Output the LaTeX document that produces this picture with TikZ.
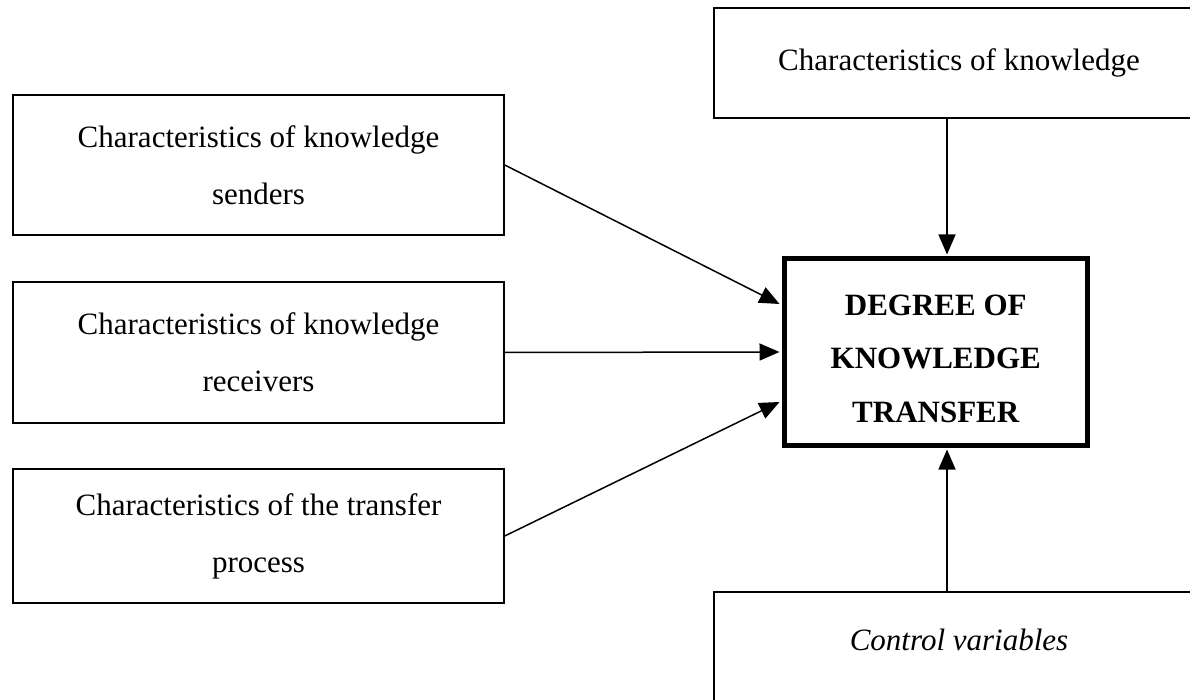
\documentclass[tikz,border=0pt]{standalone}
\usepackage{fontspec}
\setmainfont{Liberation Serif}
\usetikzlibrary{arrows.meta,calc}
\begin{document}
\begin{tikzpicture}[x=1pt,y=-1pt,
  box/.style={draw,line width=1.5pt,inner sep=0pt,align=center,font=\fontsize{31}{57}\selectfont},
  mainbox/.style={draw,line width=5pt,inner sep=0pt},
  maintext/.style={inner sep=0pt,align=center,font=\fontsize{31}{53.5}\selectfont\bfseries},
  lbl/.style={inner sep=0pt,align=center,font=\fontsize{31}{57}\selectfont},
  arr/.style={line width=1.5pt,-{Triangle[length=20pt,width=17pt]}}]
\useasboundingbox (0,0) rectangle (1190,700);
\clip (0,0) rectangle (1190,700);
% left boxes
\node[box,minimum width=491pt,minimum height=140pt] (s1) at (258.5,165) {Characteristics of knowledge\\senders};
\node[box,minimum width=491pt,minimum height=141pt] (s2) at (258.5,352.5) {Characteristics of knowledge\\receivers};
\node[box,minimum width=491pt,minimum height=134pt] (s3) at (258.5,536) {Characteristics of the transfer\\process};
% top and bottom right boxes
\node[box,minimum width=490pt,minimum height=110pt] (kn) at (959,63) {Characteristics of knowledge};
\node[box,minimum width=490pt,minimum height=130pt] (cv) at (959,657) {};
\node[lbl] (cvt) at (959,640) {\itshape Control variables};
% central box
\node[mainbox,minimum width=303.5pt,minimum height=186pt] (dkt) at (935.75,352) {};
\node[maintext] (dktt) at ($(dkt.center)+(0,6.5)$) {DEGREE OF\\KNOWLEDGE\\TRANSFER};
% connectors
\coordinate (ax) at (947,0);
\draw[arr] (s1.east) -- ($(dkt.west)+(-2,-48)$);
\draw[arr] (s2.east) -- ($(dkt.west)+(-2,0)$);
\draw[arr] (s3.east) -- ($(dkt.west)+(-2,50)$);
\draw[arr] (ax |- kn.south) -- ($(ax |- dkt.north)+(0,-2)$);
\draw[arr] (ax |- cv.north) -- ($(ax |- dkt.south)+(0,2)$);
\end{tikzpicture}
\end{document}
